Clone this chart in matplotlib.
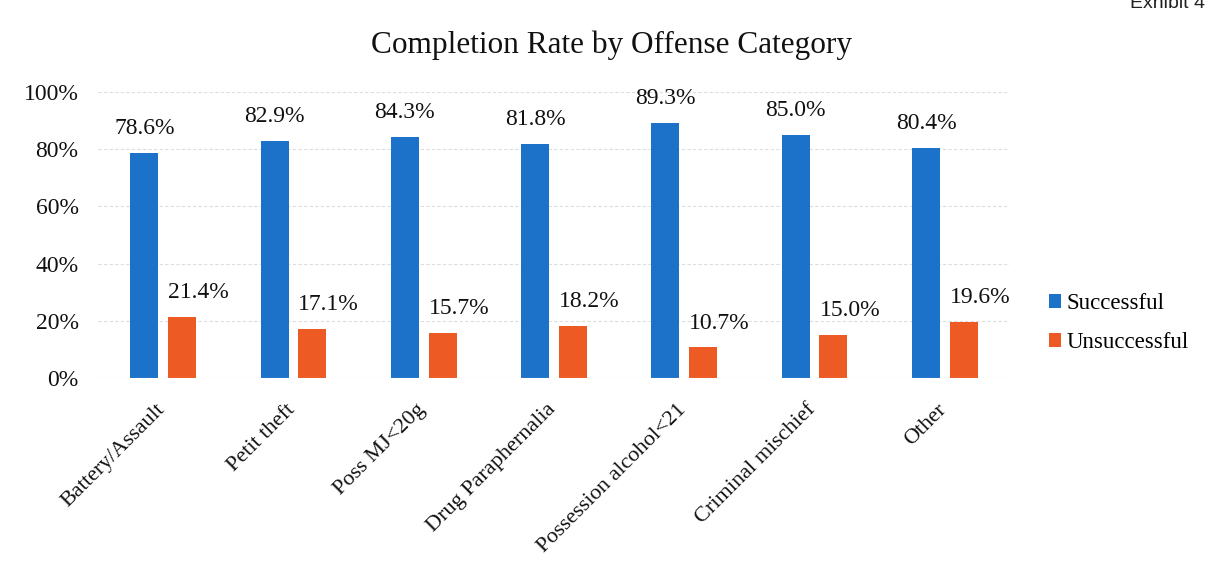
import matplotlib
matplotlib.use("Agg")
import matplotlib.pyplot as plt
import matplotlib.transforms as mtransforms
import numpy as np

categories = ["Battery/Assault", "Petit theft", "Poss MJ<20g", "Drug Paraphernalia",
              "Possession alcohol<21", "Criminal mischief", "Other"]
successful = [78.6, 82.9, 84.3, 81.8, 89.3, 85.0, 80.4]
unsuccessful = [21.4, 17.1, 15.7, 18.2, 10.7, 15.0, 19.6]
series_names = ["Successful", "Unsuccessful"]
yticks = [0, 20, 40, 60, 80, 100]

blue = "#1c72c8"
orange = "#ee5a24"

plt.rcParams['font.family'] = ['Liberation Serif', 'DejaVu Serif']

fig = plt.figure(figsize=(12.1, 5.73), dpi=100)
W, H = 1210, 573
ax = fig.add_axes([98 / W, 1 - 378 / H, (1010 - 98) / W, (378 - 92) / H])

x = np.arange(len(categories))
bw = 0.215
off = 0.145
b1 = ax.bar(x - off, successful, bw, color=blue, label=series_names[0])
b2 = ax.bar(x + off, unsuccessful, bw, color=orange, label=series_names[1])

for r, v in zip(b1, successful):
    ax.annotate(f"{v:.1f}%", (r.get_x() + r.get_width() / 2, v),
                xytext=(0, 10), textcoords="offset points",
                ha="center", va="bottom", fontsize=17, color="#111111")
for r, v in zip(b2, unsuccessful):
    ax.annotate(f"{v:.1f}%", (r.get_x(), v),
                xytext=(0, 10), textcoords="offset points",
                ha="left", va="bottom", fontsize=17, color="#111111")

ax.set_xlim(-0.5, len(categories) - 0.5)
ax.set_ylim(0, 100)
ax.set_yticks(yticks)
ax.set_yticklabels([f"{t}%" for t in yticks], fontsize=17, color="#111111")
ax.set_xticks(x)
ax.set_xticklabels(categories, rotation=45, ha="right", rotation_mode="anchor",
                   fontsize=16, color="#111111")
ax.tick_params(axis="y", length=0, pad=14)
ax.tick_params(axis="x", length=0, pad=16)
shift = mtransforms.ScaledTranslation(-0.08, 0, fig.dpi_scale_trans)
for lab in ax.get_xticklabels():
    lab.set_transform(lab.get_transform() + shift)
ax.grid(axis="y", color="#dddddd", linewidth=0.8, linestyle=(0, (3, 2)))
ax.set_axisbelow(True)
for s in ax.spines.values():
    s.set_visible(False)
ax.axhline(0, color="#d9d9d9", linewidth=0.8)

fig.text(0.5 * (373 + 850) / W, 1 - 45 / H, "Completion Rate by Offense Category",
         ha="center", va="center", fontsize=22.5, color="#111111")

fig.text(1205 / W, 1 - 3 / H, "Exhibit 4", ha="right", va="center",
         fontsize=14, family=['Liberation Sans', 'DejaVu Sans'], color="#222222")

leg = fig.legend(handles=[b1, b2], labels=series_names,
                 loc="center left", bbox_to_anchor=(1028 / W, 1 - 323 / H),
                 frameon=False, fontsize=16.5, handlelength=0.55, handleheight=0.55,
                 handletextpad=0.25, labelspacing=0.8)

fig.savefig("out.png", dpi=100)
